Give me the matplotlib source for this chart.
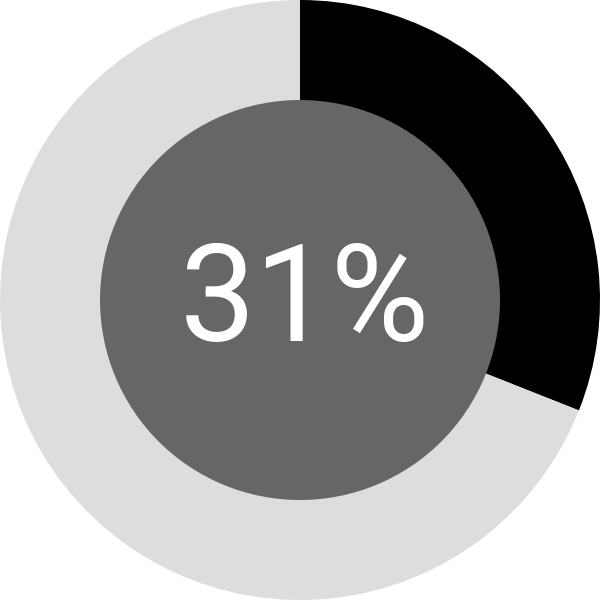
import matplotlib
matplotlib.use("Agg")
import matplotlib.pyplot as plt

labels = ["done", "rest"]
values = [31, 69]
colors = ["#000000", "#dddddd"]
center_text = "31%"

fig = plt.figure(figsize=(6, 6), dpi=100)
ax = fig.add_axes([0, 0, 1, 1])
ax.pie(values, colors=colors, startangle=90, counterclock=False, radius=1.0,
       wedgeprops=dict(linewidth=0))
ax.add_patch(plt.Circle((0, 0), 2 / 3, color="#666666", linewidth=0))
ax.text(0.015, -0.138, center_text, ha="center", va="baseline",
        color="white", fontsize=97, family="Roboto")
ax.set_xlim(-1, 1)
ax.set_ylim(-1, 1)
ax.set_aspect("equal")
ax.axis("off")
fig.savefig("out.png", dpi=100, facecolor="white")
